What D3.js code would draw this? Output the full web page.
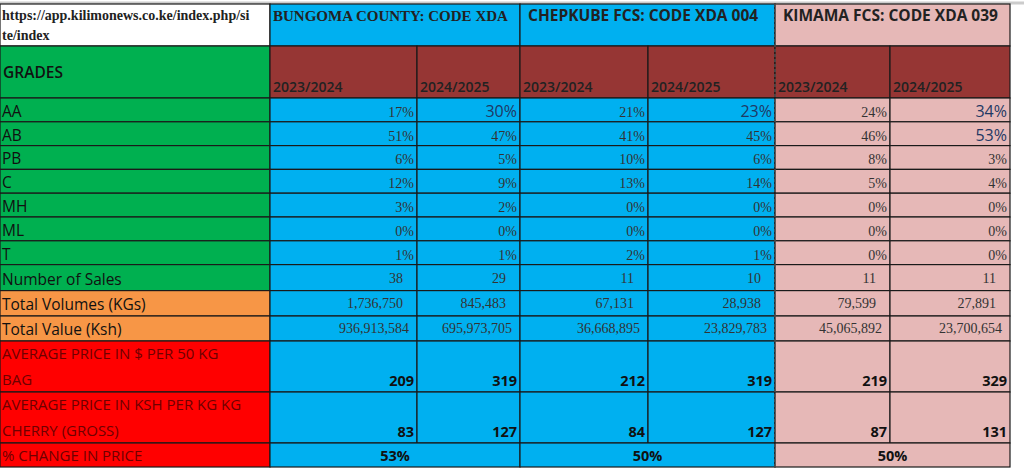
<!DOCTYPE html>
<html><head><meta charset="utf-8">
<script src="https://cdn.jsdelivr.net/npm/d3@7"></script>
<style>body{margin:0;background:#fff}svg{display:block}</style>
</head><body><svg id="c" width="1024" height="471"></svg>
<script>
const groups = ["BUNGOMA COUNTY: CODE XDA","CHEPKUBE FCS: CODE XDA 004","KIMAMA FCS: CODE XDA 039"];
const seasons = ["2023/2024","2024/2025"];
const grades = ["AA","AB","PB","C","MH","ML","T"];
const gradeValues = [
  [17,30,21,23,24,34],
  [51,47,41,45,46,53],
  [6,5,10,6,8,3],
  [12,9,13,14,5,4],
  [3,2,0,0,0,0],
  [0,0,0,0,0,0],
  [1,1,2,1,0,0]
];
const sales = [38,29,11,10,11,11];
const volumes = [1736750,845483,67131,28938,79599,27891];
const values = [936913584,695973705,36668895,23829783,45065892,23700654];
const usdPrice = [209,319,212,319,219,329];
const kshPrice = [83,127,84,127,87,131];
const change = [53,50,50];
const rowLabels = ["Number of Sales","Total Volumes (KGs)","Total Value (Ksh)","AVERAGE PRICE IN $ PER 50 KG|BAG","AVERAGE PRICE IN KSH PER KG KG|CHERRY (GROSS)","% CHANGE IN PRICE"];

const svg = d3.select("#c");
const colEdges = [0,270,417,520,648,775,890,1010];
const x = d3.scaleOrdinal().domain(d3.range(8)).range(colEdges);
const rowEdges = [4,46,98,121.8,145.6,169.4,193.2,217,240.8,264.6,290.6,316,341,392,443,467];
const y = i => rowEdges[i];
const blue="#00b0f0", pink="#e6b8b7", maroon="#963634", green="#00b050", orange="#f79646", red="#ff0000";
const serif="'Liberation Serif','Times New Roman',serif", sans="'Open Sans','Liberation Sans',sans-serif";
const colFill = c => c>=5 ? pink : blue;
const fmt = d3.format(",");
const darkRed="#6e0000";

function cell(c0,c1,r0,r1,fill){
  svg.append("rect").attr("x",x(c0)).attr("y",y(r0)).attr("width",x(c1)-x(c0)).attr("height",y(r1)-y(r0))
    .attr("fill",fill).attr("stroke","#1a1a1a").attr("stroke-width",1.2);
}
function text(t,tx,ty,o){
  svg.append("text").attr("x",tx).attr("y",ty).text(t)
    .attr("font-family",o.f||sans).attr("font-size",o.s||14).attr("font-weight",o.w||"normal")
    .attr("fill",o.c||"#222").attr("text-anchor",o.a||"start");
}
svg.append("line").attr("x1",0).attr("x2",1024).attr("y1",3).attr("y2",3).attr("stroke","#ccc").attr("stroke-width",3);
cell(0,1,0,1,"#fff");
text("https://app.kilimonews.co.ke/index.php/si",2,20,{f:serif,w:"bold",s:14,c:"#222"});
text("te/index",2,40,{f:serif,w:"bold",s:14,c:"#222"});
groups.forEach((g,i)=>{
  const c0=1+i*2;
  cell(c0,c0+2,0,1,i==2?pink:blue);
  text(g,x(c0)+(i==0?3:8),21,{f:i==0?serif:sans,w:"bold",s:i==0?15:15.5,c:"#222"});
});
cell(0,1,1,2,green);
text("GRADES",3,78,{s:15.5,w:"600",c:"#111"});
for(let c=1;c<7;c++){ cell(c,c+1,1,2,maroon); text(seasons[(c-1)%2],x(c)+3,92,{s:14,w:"600",c:"#222"}); }
grades.forEach((g,r)=>{
  cell(0,1,r+2,r+3,green);
  text(g,2,y(r+3)-5,{s:15.5,c:"#111"});
  gradeValues[r].forEach((v,k)=>{
    const c=k+1; cell(c,c+1,r+2,r+3,colFill(c));
    const big = (r==0 && k%2==1) || (r==1 && k==5);
    text(v+"%",x(c+1)-3,y(r+3)-5,{f:big?sans:serif,s:big?16:14,c:big?"#1f3864":"#333",a:"end"});
  });
});
const simple=[sales,volumes,values];
simple.forEach((arr,i)=>{
  const r=9+i;
  cell(0,1,r,r+1,i==0?green:orange);
  text(rowLabels[i],2,y(r+1)-6,{s:15.5,c:"#111"});
  arr.forEach((v,k)=>{const c=k+1; cell(c,c+1,r,r+1,colFill(c)); text(fmt(v),x(c+1)-(i==2?8:14),y(r+1)-8,{f:serif,s:14,c:"#333",a:"end"});});
});
[usdPrice,kshPrice].forEach((arr,i)=>{
  const r=12+i;
  cell(0,1,r,r+1,red);
  const parts=rowLabels[3+i].split("|");
  text(parts[0],2,y(r)+18,{s:15,c:darkRed});
  text(parts[1],2,y(r)+44,{s:15,c:darkRed});
  arr.forEach((v,k)=>{const c=k+1; cell(c,c+1,r,r+1,colFill(c)); text(v,x(c+1)-3,y(r+1)-6,{s:14.5,w:"bold",c:"#111",a:"end"});});
});
cell(0,1,14,15,red);
text(rowLabels[5],2,y(15)-6,{s:15,c:darkRed});
change.forEach((v,i)=>{
  const c0=1+i*2; cell(c0,c0+2,14,15,i==2?pink:blue);
  text(v+"%",(x(c0)+x(c0+2))/2,y(15)-6,{s:14.5,w:"bold",c:"#111",a:"middle"});
});
svg.append("line").attr("x1",x(5)).attr("x2",x(5)).attr("y1",y(0)).attr("y2",y(15))
  .attr("stroke","#555").attr("stroke-dasharray","3,2").attr("stroke-width",1.4);
</script></body></html>
